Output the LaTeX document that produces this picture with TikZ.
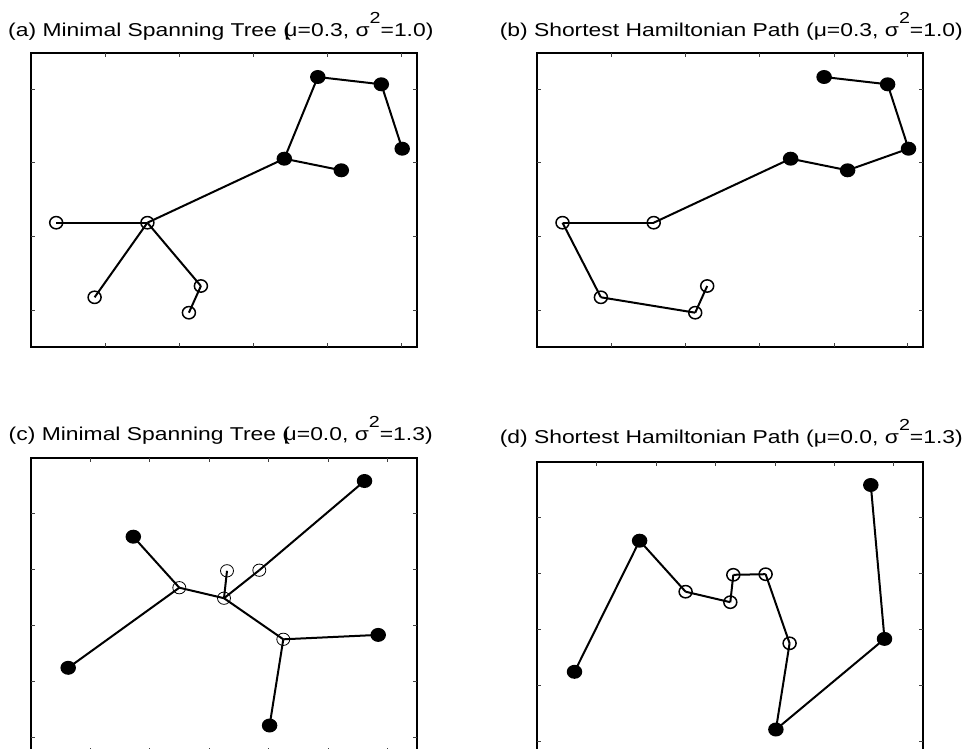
\documentclass[tikz,border=0pt]{standalone}
\usepackage{fontspec}
\setmainfont{Liberation Sans}
\usetikzlibrary{shapes.geometric}
\newcommand{\sqsup}{\raisebox{13pt}{\fontsize{16}{16}\selectfont 2}}

\begin{document}
\begin{tikzpicture}[x=1pt,y=-1pt,
  openpt/.style={ellipse,draw,line width=1.5pt,minimum width=13pt,minimum height=12.3pt,inner sep=0pt},
  thinpt/.style={ellipse,draw,line width=0.8pt,minimum width=13pt,minimum height=12.3pt,inner sep=0pt},
  fillpt/.style={ellipse,fill,minimum width=15.5pt,minimum height=14pt,inner sep=0pt},
  link/.style={line width=2pt},
  frame/.style={line width=1.9pt},
  axistick/.style={line width=0.9pt,black!75},
  ttl/.style={anchor=base west,inner sep=0pt,font=\fontsize{18.6}{20}\selectfont,xscale=1.23}]
  \useasboundingbox (0,0) rectangle (966,749);
  \def\treeA{o1/25.2/169.7,o2/116.4/169.7,o3/63.6/244.3,o4/169.9/233,o5/157.9/259.7}
  \def\treeAf{f1/253.3/105.7,f2/286.8/24,f3/350.3/31.3,f4/371.2/95.7,f5/310.3/117.3}
  \def\treeB{o1/148.3/130,o2/193/140.5,o3/196/113.1,o4/228.3/112.5,o5/252.3/181.6}
  \def\treeBf{f1/102.3/79,f2/37.2/210.1,f3/333.5/23.3,f4/347.2/177.2,f5/238.6/267.8}
  \node[ttl] (ttl-a) at (8,36.5) {(a) Minimal Spanning Tree (\kern-0.28em μ=0.3, σ\sqsup=1.0)};
  \node[ttl] (ttl-b) at (499.5,36.5) {(b) Shortest Hamiltonian Path (μ=0.3, σ\sqsup=1.0)};
  \node[ttl] (ttl-c) at (8.5,440) {(c) Minimal Spanning Tree (\kern-0.28em μ=0.0, σ\sqsup=1.3)};
  \node[ttl] (ttl-d) at (499.5,443.5) {(d) Shortest Hamiltonian Path (μ=0.0, σ\sqsup=1.3)};
  \foreach \p/\ox/\oy in {a/31/53,b/537.3/53}{
    \begin{scope}[shift={(\ox,\oy)}]
      \draw[frame] (0,0) rectangle (386,294);
      \foreach \t in {74,148.3,222.5,296.7,370}{
        \draw[axistick] (\t,0) -- ++(0,4);
        \draw[axistick] (\t,294) -- ++(0,-4);
      }
      \foreach \t in {36,109.7,183.4,257}{
        \draw[axistick] (0,\t) -- ++(4,0);
        \draw[axistick] (386,\t) -- ++(-4,0);
      }
      \foreach \n/\x/\y in \treeA{\node[openpt] (\p-\n) at (\x,\y) {};}
      \foreach \n/\x/\y in \treeAf{\node[fillpt] (\p-\n) at (\x,\y) {};}
    \end{scope}
  }
  \foreach \p/\ox/\oy/\os in {c/31/457.7/thinpt,d/537.3/461.7/openpt}{
    \begin{scope}[shift={(\ox,\oy)}]
      \draw[frame] (0,0) rectangle (386,294);
      \foreach \t in {59.5,118.9,178.4,237.8,297.2,356.6}{
        \draw[axistick] (\t,0) -- ++(0,4);
        \draw[axistick] (\t,294) -- ++(0,-4);
      }
      \foreach \t in {56,112,168,224,280}{
        \draw[axistick] (0,\t) -- ++(4,0);
        \draw[axistick] (386,\t) -- ++(-4,0);
      }
      \foreach \n/\x/\y in \treeB{\node[\os] (\p-\n) at (\x,\y) {};}
      \foreach \n/\x/\y in \treeBf{\node[fillpt] (\p-\n) at (\x,\y) {};}
    \end{scope}
  }
  \foreach \u/\v in {o1/o2,o2/o3,o2/o4,o4/o5,o2/f1,f1/f2,f2/f3,f3/f4,f1/f5}
    \draw[link] (a-\u.center) -- (a-\v.center);
  \foreach \u/\v in {f2/f3,f3/f4,f4/f5,f5/f1,f1/o2,o2/o1,o1/o3,o3/o5,o5/o4}
    \draw[link] (b-\u.center) -- (b-\v.center);
  \foreach \u/\v in {f1/o1,f2/o1,o1/o2,o2/o3,o2/o4,o4/f3,o2/o5,o5/f4,o5/f5}
    \draw[link] (c-\u.center) -- (c-\v.center);
  \foreach \u/\v in {f2/f1,f1/o1,o1/o2,o2/o3,o3/o4,o4/o5,o5/f5,f5/f4,f4/f3}
    \draw[link] (d-\u.center) -- (d-\v.center);
\end{tikzpicture}
\end{document}
